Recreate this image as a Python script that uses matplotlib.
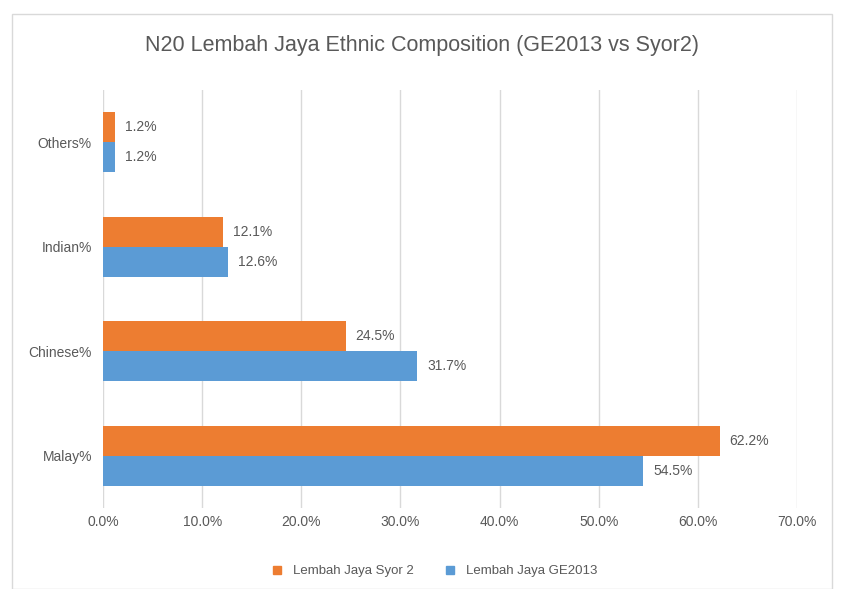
import matplotlib as mpl
mpl.use("Agg")
import matplotlib.pyplot as plt
import numpy as np
from matplotlib.patches import Rectangle
from matplotlib.lines import Line2D

categories = ["Malay%", "Chinese%", "Indian%", "Others%"]
syor2 = [62.2, 24.5, 12.1, 1.2]
ge2013 = [54.5, 31.7, 12.6, 1.2]
series_names = ["Lembah Jaya Syor 2", "Lembah Jaya GE2013"]
xticks = [0, 10, 20, 30, 40, 50, 60, 70]

ORANGE = "#ED7D31"
BLUE = "#5B9BD5"
TEXT = "#595959"
GRID = "#D9D9D9"

plt.rcParams["font.family"] = ["Liberation Sans Narrow", "Liberation Sans", "DejaVu Sans"]

fig = plt.figure(figsize=(8.44, 5.89), dpi=100)
fig.patches.append(Rectangle((12 / 844, 0), 820 / 844, 1 - 14 / 589, transform=fig.transFigure,
                             fill=False, edgecolor="#D9D9D9", lw=1.0))
ax = fig.add_axes([103 / 844, 1 - 508 / 589, 694 / 844, 418 / 589])

y = np.arange(len(categories))
h = 0.285
ax.barh(y + h / 2, syor2, height=h, color=ORANGE, zorder=3)
ax.barh(y - h / 2, ge2013, height=h, color=BLUE, zorder=3)
for i in range(len(categories)):
    ax.annotate(f"{syor2[i]:.1f}%", (syor2[i], y[i] + h / 2), xytext=(7, 0), textcoords="offset points",
                va="center", ha="left", fontsize=10, color=TEXT)
    ax.annotate(f"{ge2013[i]:.1f}%", (ge2013[i], y[i] - h / 2), xytext=(7, 0), textcoords="offset points",
                va="center", ha="left", fontsize=10, color=TEXT)

ax.set_xlim(0, 70)
ax.set_ylim(-0.5, len(categories) - 0.5)
ax.set_xticks(xticks)
ax.set_xticklabels([f"{v:.1f}%" for v in xticks])
ax.set_yticks(y)
ax.set_yticklabels(categories)
ax.tick_params(axis="both", length=0, colors=TEXT, labelsize=10)
ax.tick_params(axis="x", pad=5)
ax.tick_params(axis="y", pad=8)
ax.grid(axis="x", color=GRID, lw=1.0, zorder=0)
for s in ax.spines.values():
    s.set_visible(False)

fig.text(0.5, 1 - 45 / 589, "N20 Lembah Jaya Ethnic Composition (GE2013 vs Syor2)",
         ha="center", va="center", fontsize=15.5, color=TEXT)

handles = [Line2D([], [], marker="s", ls="", color=ORANGE, markersize=6),
           Line2D([], [], marker="s", ls="", color=BLUE, markersize=6)]
fig.legend(handles, series_names, loc="center", bbox_to_anchor=(0.51, 1 - 571 / 589), ncol=2,
           frameon=False, fontsize=9.5, labelcolor=TEXT, handletextpad=0.2, columnspacing=1.8)

fig.savefig("out.png", dpi=100, facecolor="white")
